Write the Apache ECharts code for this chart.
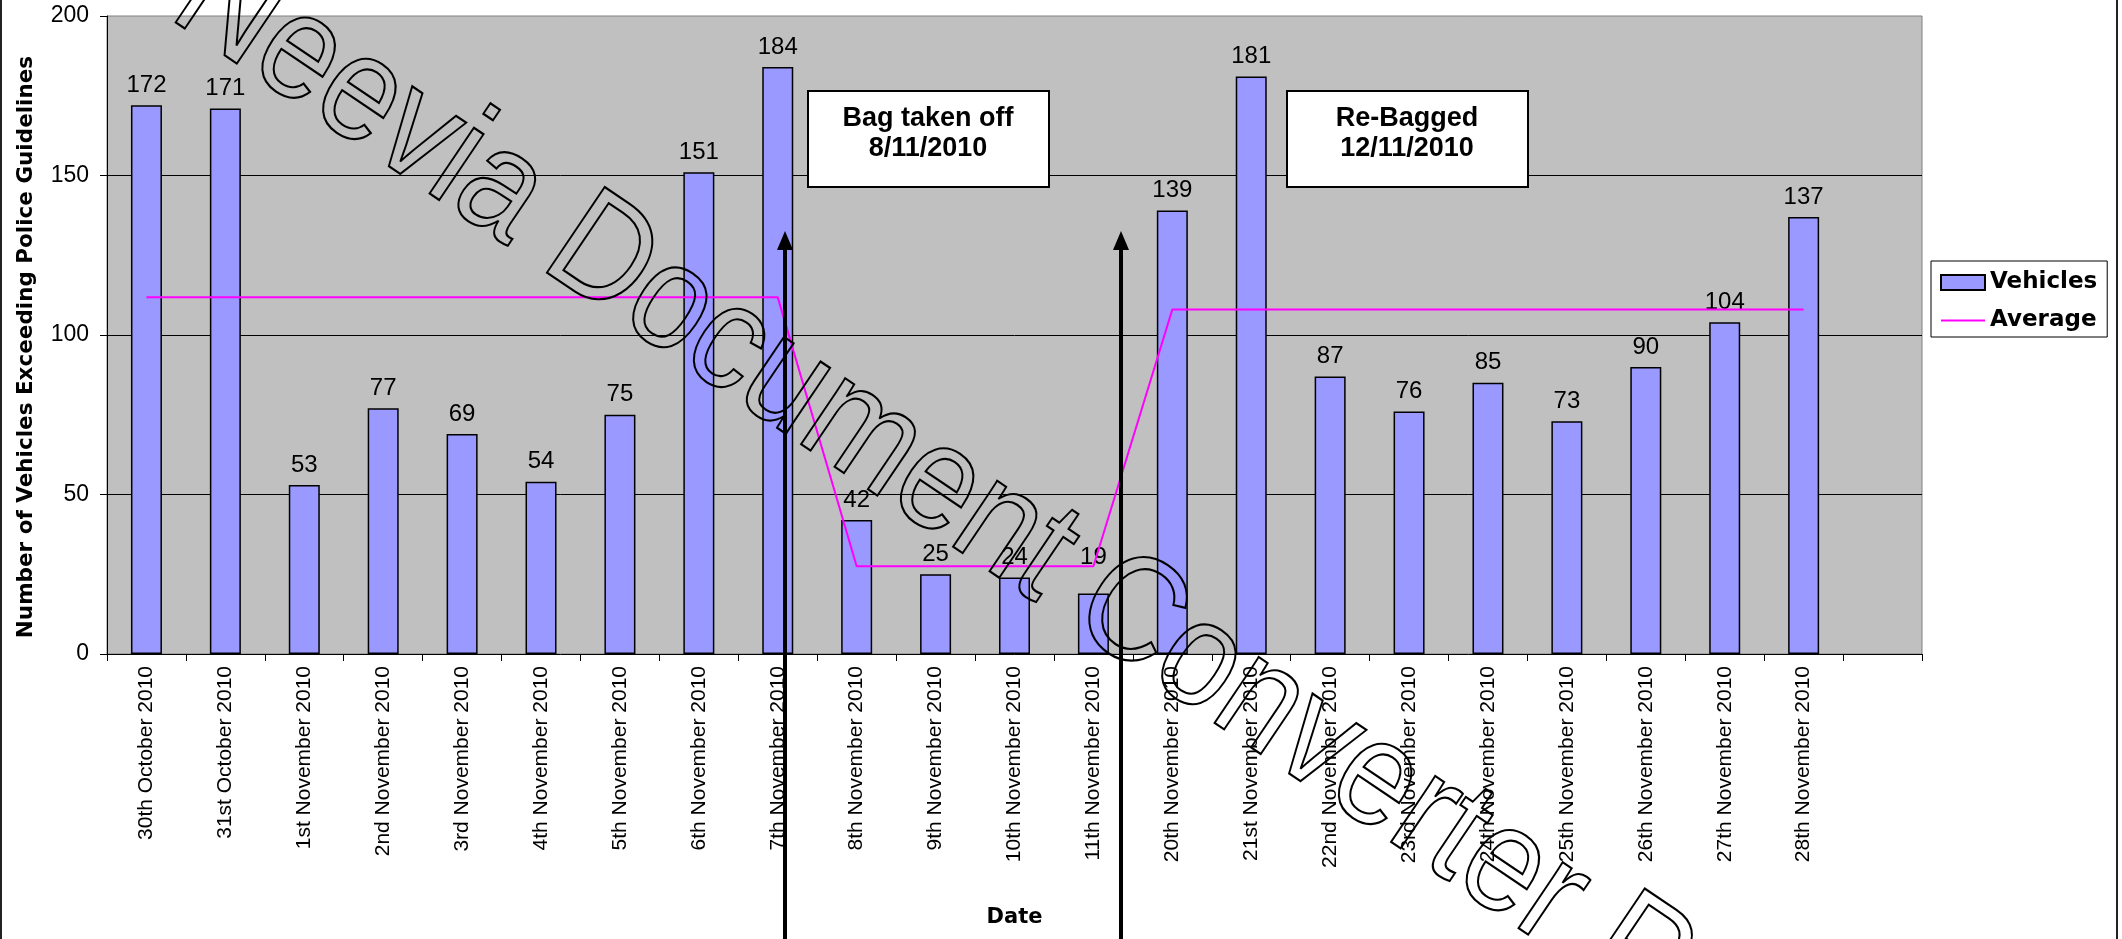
<!DOCTYPE html>
<html>
<head>
<meta charset="utf-8">
<script src="https://cdn.jsdelivr.net/npm/echarts@6/dist/echarts.min.js"></script>
<style>
html, body { margin: 0; padding: 0; background: #fff; }
#main { width: 2122px; height: 939px; }
</style>
</head>
<body>
<div id="main"></div>
<script>
// categories (the last one is an empty slot, as in the original sheet)
const dates = [
  '30th October 2010', '31st October 2010', '1st November 2010', '2nd November 2010',
  '3rd November 2010', '4th November 2010', '5th November 2010', '6th November 2010',
  '7th November 2010', '8th November 2010', '9th November 2010', '10th November 2010',
  '11th November 2010', '20th November 2010', '21st November 2010', '22nd November 2010',
  '23rd November 2010', '24th November 2010', '25th November 2010', '26th November 2010',
  '27th November 2010', '28th November 2010', ''
]
const vehicles = [172, 171, 53, 77, 69, 54, 75, 151, 184, 42, 25, 24, 19, 139, 181, 87, 76, 85, 73, 90, 104, 137]
const average = [111.8, 111.8, 111.8, 111.8, 111.8, 111.8, 111.8, 111.8, 111.8,
  27.5, 27.5, 27.5, 27.5,
  108, 108, 108, 108, 108, 108, 108, 108, 108]
const notes = ['Bag taken off\n8/11/2010', 'Re-Bagged\n12/11/2010']
const watermark = 'Neevia Document Converter Pro'

const labelFont = 'Liberation Sans, Arial, sans-serif'
const boldFont = 'DejaVu Sans, Verdana, sans-serif'

var myChart = echarts.init(document.getElementById('main'))

function arrow(x) {
  return [
    { type: 'line', z: 50, shape: { x1: x, y1: 246, x2: x, y2: 939 }, style: { stroke: '#000', lineWidth: 4 } },
    { type: 'polygon', z: 50, shape: { points: [[x - 8, 250], [x + 8, 250], [x, 231]] }, style: { fill: '#000' } }
  ]
}

function noteBox(x, text) {
  return [
    { type: 'rect', z: 50, shape: { x: x, y: 91, width: 241, height: 96 }, style: { fill: '#fff', stroke: '#000', lineWidth: 2 } },
    { type: 'text', z: 51, x: x + 120, y: 134,
      style: { text: text, fill: '#000', font: 'bold 27px Liberation Sans, Arial, sans-serif',
        align: 'center', verticalAlign: 'middle', textAlign: 'center', textVerticalAlign: 'middle', lineHeight: 30 } }
  ]
}

myChart.setOption({
  animation: false,
  grid: {
    left: 107, right: 200, top: 16, bottom: 285,
    show: true, backgroundColor: '#c0c0c0', borderColor: '#808080', borderWidth: 1
  },
  legend: {
    orient: 'vertical',
    left: 1931, top: 261,
    backgroundColor: '#fff', borderColor: '#000', borderWidth: 1,
    padding: [10, 10, 5, 9],
    itemWidth: 44, itemHeight: 15, itemGap: 15,
    textStyle: { fontFamily: boldFont, fontWeight: 'bold', fontSize: 23, color: '#000' },
    data: [
      { name: 'Vehicles', icon: 'rect' },
      { name: 'Average', icon: 'path://M0,0 L44,0 L44,2 L0,2 Z' }
    ]
  },
  xAxis: {
    type: 'category',
    data: dates,
    name: 'Date',
    nameLocation: 'middle',
    nameGap: 253,
    nameTextStyle: { fontFamily: boldFont, fontWeight: 'bold', fontSize: 21, color: '#000' },
    axisLine: { lineStyle: { color: '#000', width: 1 } },
    axisTick: { show: true, alignWithLabel: false, length: 7, lineStyle: { color: '#000' } },
    axisLabel: { rotate: 90, interval: 0, margin: 12, fontSize: 21, fontFamily: labelFont, color: '#000' },
    splitLine: { show: false }
  },
  yAxis: {
    type: 'value',
    min: 0, max: 200, interval: 50,
    name: 'Number of Vehicles Exceeding Police Guidelines',
    nameLocation: 'middle',
    nameGap: 70,
    nameTextStyle: { fontFamily: boldFont, fontWeight: 'bold', fontSize: 21.5, color: '#000', padding: [0, 24, 0, 0] },
    axisLine: { show: true, lineStyle: { color: '#000', width: 1 } },
    axisTick: { show: true, length: 7, lineStyle: { color: '#000' } },
    axisLabel: { margin: 18, fontSize: 23, fontFamily: labelFont, color: '#000' },
    splitLine: { show: true, showMinLine: false, showMaxLine: false, lineStyle: { color: '#000', width: 1 } }
  },
  series: [{
    name: 'Vehicles',
    type: 'bar',
    barWidth: 31,
    itemStyle: { color: '#9999ff', borderColor: '#000', borderWidth: 1.5 },
    label: { show: true, position: 'top', distance: 8, fontSize: 24, fontFamily: labelFont, color: '#000' },
    // the "19" label sits a little higher in the original
    data: vehicles.map((v, i) => i === 12 ? { value: v, label: { offset: [0, -16] } } : v)
  }, {
    name: 'Average',
    type: 'line',
    symbol: 'none',
    z: 5,
    lineStyle: { color: '#ff00ff', width: 2 },
    itemStyle: { color: '#ff00ff' },
    data: average
  }],
  graphic: [
    { type: 'line', z: 60, shape: { x1: 1, y1: 0, x2: 1, y2: 939 }, style: { stroke: '#222', lineWidth: 2 } },
    { type: 'line', z: 60, shape: { x1: 2117, y1: 0, x2: 2117, y2: 939 }, style: { stroke: '#222', lineWidth: 2 } },
    ...noteBox(808, notes[0]),
    ...noteBox(1287, notes[1]),
    ...arrow(785),
    ...arrow(1121),
    // converter watermark, outlined text running diagonally
    { type: 'text', z: 100, x: 190, y: -18, rotation: -34 * Math.PI / 180, scaleX: 0.88,
      style: { text: watermark, font: '150px Liberation Sans, Arial, sans-serif',
        fill: 'transparent', stroke: '#000', lineWidth: 2.2, strokeNoScale: true,
        align: 'left', verticalAlign: 'middle', textAlign: 'left', textVerticalAlign: 'middle' } }
  ]
})
</script>
</body>
</html>
